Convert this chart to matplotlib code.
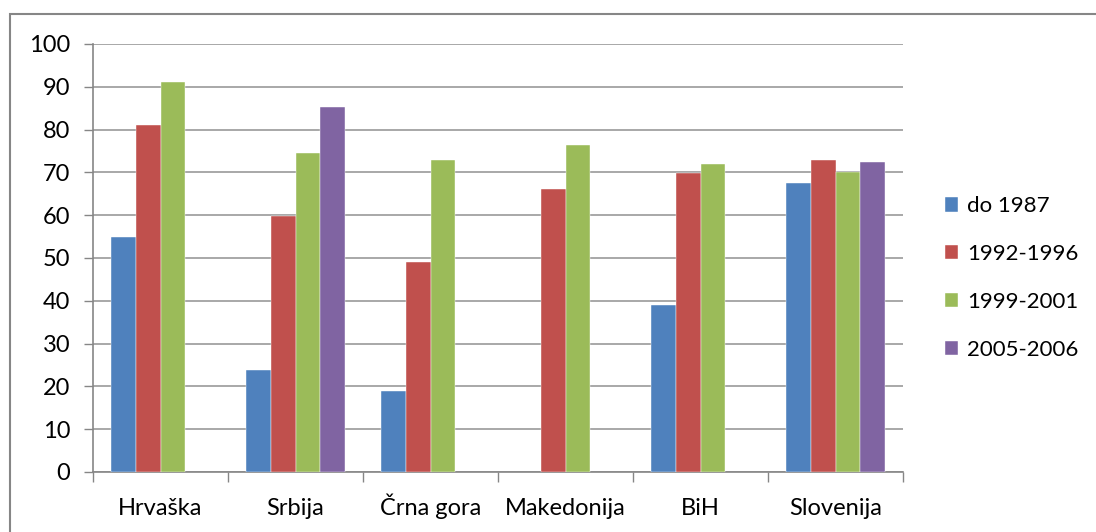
import numpy as np
import matplotlib.pyplot as plt
from matplotlib.patches import Rectangle

# ---------------------------------------------------------------------------
# Data
# ---------------------------------------------------------------------------
countries = ["Hrvaška", "Srbija", "Črna gora", "Makedonija", "BiH", "Slovenija"]
periods = ["do 1987", "1992-1996", "1999-2001", "2005-2006"]

do_1987 = [54.8, 23.8, 18.9, np.nan, 39.0, 67.6]
p_1992_1996 = [81.1, 59.7, 49.1, 66.2, 69.9, 73.0]
p_1999_2001 = [91.2, 74.5, 73.0, 76.3, 71.9, 70.0]
p_2005_2006 = [np.nan, 85.3, np.nan, np.nan, np.nan, 72.4]

series = [do_1987, p_1992_1996, p_1999_2001, p_2005_2006]
colors = ["#4F81BD", "#C0504D", "#9BBB59", "#8064A2"]

plt.rcParams["font.family"] = ["Lato", "DejaVu Sans"]

W, H = 1096, 532
fig = plt.figure(figsize=(W / 100, H / 100), dpi=100)

# chart-area border (cut off at right/bottom like the screenshot)
fig.patches.append(Rectangle((10 / W, -0.1), 1.2, 1 - 14 / H + 0.1,
                             transform=fig.transFigure, fill=False,
                             edgecolor="#868686", linewidth=1.5))

ax = fig.add_axes([93 / W, 1 - 472 / H, (903 - 93) / W, (472 - 44) / H])

x = np.arange(len(countries))
bw = 1 / 5.5
for i, (vals, c, lab) in enumerate(zip(series, colors, periods)):
    ax.bar(x + (i - 1.5) * bw, vals, width=bw, color=c, label=lab,
           edgecolor="white", linewidth=0.3, zorder=3)

ax.set_xlim(-0.5, len(countries) - 0.5)
ax.set_ylim(0, 100)
ax.set_yticks(np.arange(0, 101, 10))
ax.yaxis.grid(True, color="#9a9a9a", linewidth=1.2, zorder=0)

ax.set_xticks(x)
ax.set_xticklabels(countries)
for lbl in ax.get_xticklabels():
    lbl.set_verticalalignment("baseline")
ax.set_xticks(np.arange(-0.5, len(countries), 1), minor=True)
ax.tick_params(axis="x", which="major", length=0, pad=31, labelsize=17)
ax.tick_params(axis="x", which="minor", length=7, width=1, color="#868686")
ax.tick_params(axis="y", length=6.5, width=1, color="#868686", pad=10,
               labelsize=17)

for s in ["top", "right"]:
    ax.spines[s].set_visible(False)
for s in ["left", "bottom"]:
    ax.spines[s].set_color("#868686")
    ax.spines[s].set_linewidth(1.2)

ax.legend(loc="center left", bbox_to_anchor=(936 / W, 1 - 278 / H),
          bbox_transform=fig.transFigure, frameon=False, fontsize=16,
          handlelength=0.6, handleheight=0.6, handletextpad=0.4,
          labelspacing=1.25, borderaxespad=0)

fig.savefig("out.png", dpi=100)
